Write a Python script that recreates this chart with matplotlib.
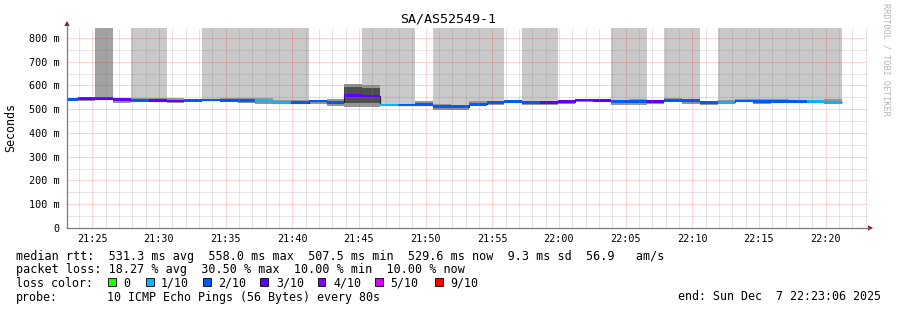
import matplotlib
matplotlib.use("Agg")
import matplotlib.pyplot as plt
import matplotlib.dates as mdates
import numpy as np
from matplotlib.ticker import MultipleLocator, FuncFormatter
from matplotlib.patches import Polygon, Rectangle
from matplotlib.lines import Line2D
from datetime import datetime, timedelta

TITLE = "SA/AS52549-1"
T_START = datetime(2025, 12, 7, 21, 23, 6)
T_END = datetime(2025, 12, 7, 22, 23, 6)
FIRST_STEP = datetime(2025, 12, 7, 21, 22, 34)
STEP_S = 80

# median rtt per 80 s step (ms)
median = [542, 544, 544, 540, 538, 536, 535, 537, 539, 538, 536, 535, 527, 527, 535,
          530, 559, 556, 518, 518, 519, 511, 510, 521, 530, 532, 530, 530, 532, 539,
          536, 533, 533, 534, 537, 536, 530, 529, 535, 534, 532, 532, 532, 530]
# lost pings out of 10 per step
loss = [2, 3, 3, 3, 2, 3, 3, 2, 2, 2, 2, 1, 1, 2, 2,
        2, 3, 3, 1, 2, 2, 2, 2, 2, 2, 2, 2, 3, 3, 3,
        3, 2, 2, 3, 2, 2, 2, 1, 2, 2, 2, 2, 1, 1]
# smoke (spread of ping rtts) per step (ms)
smoke_lo = [538, 535, 540, 528, 536, 534, 525, 535, 536, 535, 525, 522, 523, 522, 521,
            515, 511, 511, 514, 514, 514, 497, 497, 515, 517, 528, 519, 519, 522, 530,
            530, 519, 519, 522, 530, 522, 518, 522, 530, 521, 526, 526, 526, 526]
smoke_hi = [546, 547, 548, 542, 548, 548, 548, 540, 542, 547, 546, 546, 539, 539, 537,
            542, 606, 602, 522, 522, 535, 522, 514, 535, 535, 535, 535, 535, 535, 543,
            543, 539, 543, 539, 548, 543, 535, 539, 543, 543, 543, 539, 539, 543]
nan = float("nan")
core_lo = [nan] * 16 + [525, 525] + [nan] * 26
core_hi = [nan] * 16 + [592, 588] + [nan] * 26
# pings beyond graph top: 0 none, 1 some, 2 more
over = [0, 0, 2, 0, 1, 1, 0, 0, 1, 1, 1, 1, 1, 1, 0,
        0, 0, 1, 1, 1, 0, 1, 1, 1, 1, 0, 1, 1, 0, 0,
        0, 1, 1, 0, 1, 1, 0, 1, 1, 1, 1, 1, 1, 1]

loss_labels = ["0", "1/10", "2/10", "3/10", "4/10", "5/10", "9/10"]
loss_levels = [0, 1, 2, 3, 4, 5, 9]
loss_colors = ["#26ff00", "#00b8ff", "#0059ff", "#5e00ff", "#7e00ff", "#dd00ff", "#ff0000"]

row1 = "median rtt:  531.3 ms avg  558.0 ms max  507.5 ms min  529.6 ms now  9.3 ms sd  56.9   am/s"
row2 = "packet loss: 18.27 % avg  30.50 % max  10.00 % min  10.00 % now"
probe_label = "probe:"
probe_text = "10 ICMP Echo Pings (56 Bytes) every 80s"
end_text = "end: Sun Dec  7 22:23:06 2025"
YMAX = 842.1

W, H = 897, 310
fig = plt.figure(figsize=(W / 100, H / 100), dpi=100)
fig.patch.set_facecolor("white")


def fx(px):
    return px / W


def fy(py):
    return 1 - py / H


L, R, T, B = 67, 867, 28, 228
ax = fig.add_axes([fx(L), fy(B), (R - L) / W, (B - T) / H])
ax.set_facecolor("white")

n = len(median)
edges = [FIRST_STEP + timedelta(seconds=STEP_S * k) for k in range(n + 1)]
en = mdates.date2num(edges)
left = en[:-1]
wd = STEP_S / 86400.0
med = np.array(median, float)
ppx = YMAX / (B - T)  # ms per pixel

# tall bars for pings beyond the top
over_cols = {1: "#c9c9c9", 2: "#a2a2a2"}
for lvl, col in over_cols.items():
    idx = [i for i in range(n) if over[i] == lvl]
    ax.bar([left[i] for i in idx], [YMAX - med[i] for i in idx], width=wd,
           bottom=[med[i] for i in idx], align="edge", color=col, linewidth=0, zorder=1)

# smoke
lo = np.array(smoke_lo, float)
hi = np.array(smoke_hi, float)
ax.bar(left, hi - lo, width=wd, bottom=lo, align="edge", color="#959595", linewidth=0, zorder=1.1)
clo = np.array(core_lo, float)
chi = np.array(core_hi, float)
m = ~np.isnan(clo)
ax.bar(left[m], (chi - clo)[m], width=wd, bottom=clo[m], align="edge", color="#4e4e4e",
       linewidth=0, zorder=1.2)

# median line
ax.stairs(med, en, color="#202020", linewidth=0.8, baseline=None, zorder=1.3)

# loss coloured bands around median
cmap = dict(zip(loss_levels, loss_colors))
band = 1.4 * ppx
ax.bar(left, [2 * band] * n, width=wd, bottom=med - band, align="edge",
       color=[cmap[v] for v in loss], linewidth=0, zorder=1.4)

ax.set_xlim(mdates.date2num(T_START), mdates.date2num(T_END))
ax.set_ylim(0, YMAX)

ax.xaxis.set_major_locator(mdates.MinuteLocator(byminute=range(0, 60, 5)))
ax.xaxis.set_minor_locator(mdates.MinuteLocator())
ax.xaxis.set_major_formatter(mdates.DateFormatter("%H:%M"))
ax.yaxis.set_major_locator(MultipleLocator(100))
ax.yaxis.set_minor_locator(MultipleLocator(50))
ax.yaxis.set_major_formatter(FuncFormatter(lambda v, p: "0" if v == 0 else f"{v:.0f} m"))

ax.set_axisbelow(False)
ax.grid(which="major", color="#ff0000", alpha=0.32, linestyle=(0, (1, 1)), linewidth=0.72)
ax.grid(which="minor", color="#808080", alpha=0.42, linestyle=(0, (1, 1)), linewidth=0.72)

for s in ax.spines.values():
    s.set_visible(False)
ax.tick_params(which="both", length=0)
ax.tick_params(axis="y", pad=5.2, labelsize=7.3, labelfontfamily="DejaVu Sans Mono")
ax.tick_params(axis="x", pad=4.0, labelsize=7.3, labelfontfamily="DejaVu Sans Mono")

# axes lines and arrows
axis_col = "#7a7a7a"
arrow_col = "#8b1a1a"
fig.add_artist(Line2D([fx(L), fx(L)], [fy(B), fy(25)], color=axis_col, linewidth=0.9))
fig.add_artist(Line2D([fx(L), fx(869)], [fy(B), fy(B)], color=axis_col, linewidth=0.9))
fig.add_artist(Polygon([[fx(64.3), fy(26)], [fx(69.7), fy(26)], [fx(67), fy(21)]],
                       closed=True, color=arrow_col, linewidth=0))
fig.add_artist(Polygon([[fx(868), fy(225.3)], [fx(868), fy(230.7)], [fx(873), fy(228)]],
                       closed=True, color=arrow_col, linewidth=0))

mono = "DejaVu Sans Mono"
fig.text(fx(448), fy(19), TITLE, ha="center", va="center", fontsize=9.6, family=mono)
fig.text(fx(11), fy(127), "Seconds", ha="center", va="center", rotation=90,
         fontsize=8.4, family=mono)
fig.text(fx(886), fy(59), "RRDTOOL / TOBI OETIKER", ha="center", va="center", rotation=270,
         fontsize=6.1, family=mono, color="#b4b4b4")

FS = 8.45
FS2 = 8.33
fig.text(fx(16), fy(260), row1, ha="left", va="baseline", fontsize=FS, family=mono)
fig.text(fx(16), fy(273.5), row2, ha="left", va="baseline", fontsize=FS, family=mono)

fig.text(fx(16), fy(287), "loss color:", ha="left", va="baseline", fontsize=FS2, family=mono)
box_x = [108.3, 146, 203, 260.3, 317.7, 375, 435]
lab_x = [123.3, 160.7, 218.3, 276, 333.3, 390.7, 450]
for bx, lx, lab, col in zip(box_x, lab_x, loss_labels, loss_colors):
    fig.add_artist(Rectangle((fx(bx), fy(285.7)), 7.7 / W, 7.7 / H, facecolor=col,
                             edgecolor="black", linewidth=0.6))
    fig.text(fx(lx), fy(287), lab, ha="left", va="baseline", fontsize=FS2, family=mono)

fig.text(fx(16), fy(300.5), probe_label, ha="left", va="baseline", fontsize=FS2, family=mono)
fig.text(fx(107.3), fy(300.5), probe_text, ha="left", va="baseline", fontsize=FS2, family=mono)
fig.text(fx(880.5), fy(300.5), end_text, ha="right", va="baseline", fontsize=FS2, family=mono)

fig.savefig("out.png", dpi=100, facecolor="white")
